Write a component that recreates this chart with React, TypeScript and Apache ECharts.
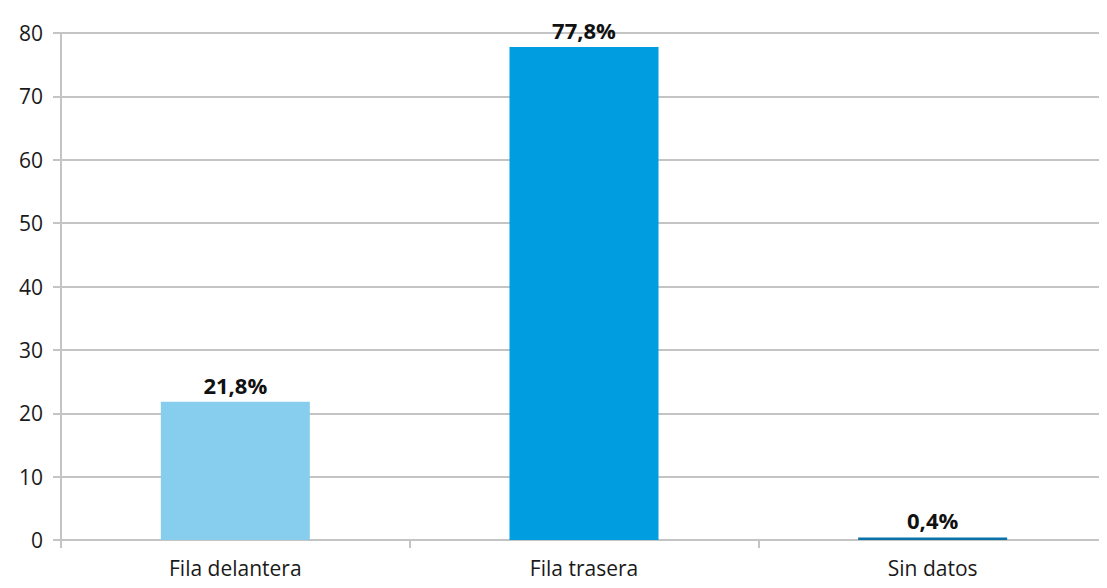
import React, { useEffect, useRef } from "react";
import * as echarts from "echarts";

const categories = ["Fila delantera", "Fila trasera", "Sin datos"];
const values = [21.8, 77.8, 0.4];
const valueLabels = ["21,8%", "77,8%", "0,4%"];
const barColors = ["#87CEEE", "#009EE0", "#0A72A8"];
const yTicks = { min: 0, max: 80, interval: 10 };

export default function App() {
  const ref = useRef<HTMLDivElement>(null);
  useEffect(() => {
    if (!ref.current) return;
    const chart = echarts.init(ref.current, undefined, { renderer: "svg" });
    const font = "'Open Sans', 'Noto Sans', sans-serif";
    chart.setOption({
      animation: false,
      grid: { left: 61, right: 0, top: 33, bottom: 48, containLabel: false },
      xAxis: {
        type: "category",
        data: categories,
        axisLine: { show: true, lineStyle: { color: "#C4C4C4", width: 2 } },
        axisTick: { show: true, length: 8, lineStyle: { color: "#C4C4C4", width: 2 } },
        axisLabel: { color: "#1a1a1a", fontSize: 21, fontFamily: font, margin: 17 },
      },
      yAxis: {
        type: "value",
        min: yTicks.min,
        max: yTicks.max,
        interval: yTicks.interval,
        axisLine: { show: true, lineStyle: { color: "#C4C4C4", width: 2 } },
        axisTick: { show: true, length: 8, lineStyle: { color: "#C4C4C4", width: 2 } },
        splitLine: { show: true, lineStyle: { color: "#C4C4C4", width: 2 } },
        axisLabel: {
          color: "#1a1a1a",
          fontSize: 21,
          fontFamily: font,
          margin: 18,
          padding: [0, 0, 8, 0],
        },
      },
      series: [
        {
          type: "bar",
          barWidth: 149,
          data: values.map((v, i) => ({
            value: v,
            itemStyle: { color: barColors[i] },
            label: {
              show: true,
              position: "top",
              distance: 6,
              formatter: valueLabels[i],
              color: "#111",
              fontWeight: "bold",
              fontSize: 22,
              fontFamily: font,
            },
          })),
        },
      ],
    });
    return () => chart.dispose();
  }, []);
  return <div ref={ref} style={{ width: 1107, height: 588, margin: -8 }} />;
}
